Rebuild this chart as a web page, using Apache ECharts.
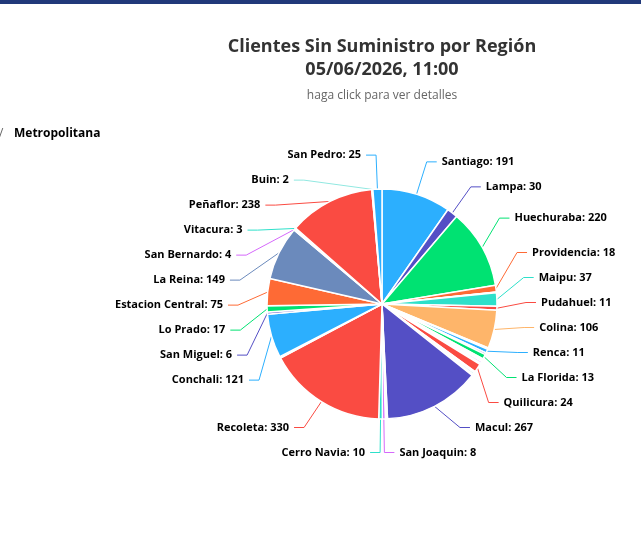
<!DOCTYPE html>
<html>
<head>
<meta charset="utf-8">
<script src="https://cdn.jsdelivr.net/npm/echarts@6/dist/echarts.min.js"></script>
<style>
  html, body { margin: 0; padding: 0; background: #fff; }
  #chart { width: 641px; height: 539px; }
</style>
</head>
<body>
<div id="chart"></div>
<script>
// comunas en el orden del gráfico (las vacías son rebanadas sin etiqueta)
const comunas = [
  'Santiago', 'Lampa', 'Huechuraba', 'Providencia', '', '', 'Maipu', 'Pudahuel',
  'Colina', '', 'Renca', '', 'La Florida', '', '', '', '', 'Quilicura', '', '', '',
  'Macul', '', '', '', 'San Joaquin', 'Cerro Navia', 'Recoleta', '', '', 'Conchali',
  'San Miguel', 'Lo Prado', 'Estacion Central', 'La Reina', 'San Bernardo', 'Vitacura',
  'Peñaflor', '', 'Buin', 'San Pedro'
]
const clientes = [
  191, 30, 220, 18, 1, 1, 37, 11,
  106, 4, 11, 5, 13, 4, 4, 5, 4, 24, 4, 5, 4,
  267, 2, 2, 2, 8, 10, 330, 2, 2, 121,
  6, 17, 75, 149, 4, 3,
  238, 1, 2, 25
]
const colores = ['#2caffe', '#544fc5', '#00e272', '#fe6a35', '#6b8abc', '#d568fb', '#2ee0ca', '#fa4b42', '#feb56a', '#91e8e1']

const titulo = 'Clientes Sin Suministro por Región'
const fecha = '05/06/2026, 11:00'
const subtitulo = 'haga click para ver detalles'
const region = 'Metropolitana'

const fuente = '"Open Sans", "Noto Sans", sans-serif'

const datos = comunas.map((c, i) => ({
  name: c,
  value: clientes[i],
  label: { show: c !== '' },
  labelLine: { show: c !== '' }
}))

const myChart = echarts.init(document.getElementById('chart'))

const option = {
  animation: false,
  color: colores,
  graphic: [
    { type: 'rect', shape: { x: 0, y: 0, width: 641, height: 4 }, style: { fill: '#21397a' } },
    { type: 'text', x: 382, y: 47, style: { text: titulo, fill: '#333', font: 'bold 18px ' + fuente, textAlign: 'center', textVerticalAlign: 'middle' } },
    { type: 'text', x: 382, y: 70, style: { text: fecha, fill: '#333', font: 'bold 18px ' + fuente, textAlign: 'center', textVerticalAlign: 'middle' } },
    { type: 'text', x: 382, y: 96, style: { text: subtitulo, fill: '#666', font: '12px ' + fuente, textAlign: 'center', textVerticalAlign: 'middle' } },
    { type: 'text', x: -1, y: 134, style: { text: '/', fill: '#666', font: '12px ' + fuente, textVerticalAlign: 'middle' } },
    { type: 'text', x: 14, y: 134, style: { text: region, fill: '#000', font: 'bold 12px ' + fuente, textVerticalAlign: 'middle' } }
  ],
  series: [
    {
      type: 'pie',
      top: 0,
      bottom: 74,
      center: [382, 304],
      radius: 115,
      startAngle: 90,
      clockwise: true,
      avoidLabelOverlap: true,
      itemStyle: {
        borderColor: '#fff',
        borderWidth: 1.5
      },
      label: {
        formatter: '{b}: {c}',
        fontFamily: fuente,
        fontSize: 11,
        fontWeight: 'bold',
        color: '#000',
        lineHeight: 23
      },
      labelLine: {
        length: 34,
        length2: 10,
        lineStyle: { width: 1 }
      },
      emphasis: { disabled: true },
      data: datos
    }
  ]
}

myChart.setOption(option)

window.addEventListener('resize', () => {
  myChart.resize()
})
</script>
</body>
</html>
